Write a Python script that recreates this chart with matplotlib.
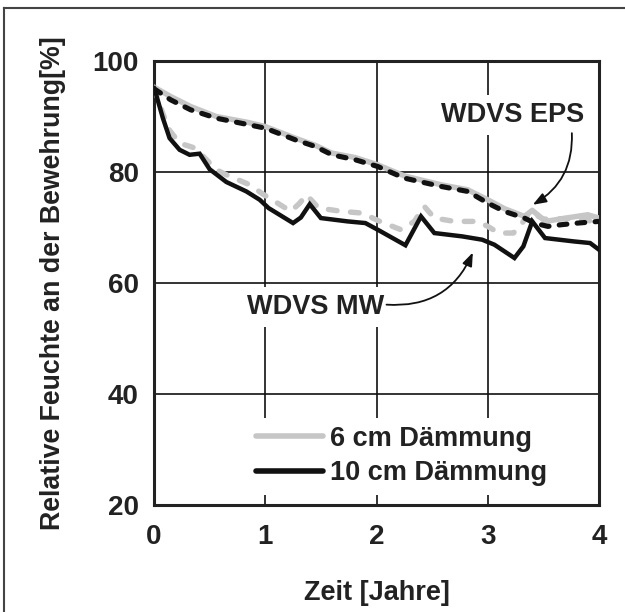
import matplotlib
matplotlib.use("Agg")
import matplotlib.pyplot as plt
from matplotlib.lines import Line2D

# ---------------- data ----------------
eps10_x = [0.0, 0.15, 0.33, 0.56, 0.83, 1.0, 1.27, 1.45, 1.6, 1.81, 2.01, 2.25, 2.58, 2.82, 3.0, 3.15, 3.33, 3.42, 3.54, 3.66, 3.81, 4.0]
eps10_y = [95.0, 93.0, 91.2, 89.7, 88.6, 87.9, 85.8, 84.6, 83.1, 82.2, 81.0, 78.9, 77.4, 76.5, 74.4, 72.9, 71.7, 70.8, 70.2, 70.5, 70.8, 71.1]

eps6_x = [0.0, 0.15, 0.33, 0.56, 0.83, 1.0, 1.27, 1.45, 1.6, 1.81, 2.01, 2.25, 2.58, 2.82, 3.0, 3.15, 3.33, 3.4, 3.52, 3.7, 3.9, 4.0]
eps6_y = [95.3, 93.6, 91.8, 90.0, 89.0, 88.2, 86.1, 84.8, 83.4, 82.6, 81.3, 79.3, 77.7, 76.8, 75.0, 73.4, 72.0, 73.1, 71.1, 71.7, 72.3, 71.7]

mw10_x = [0.0, 0.02, 0.08, 0.14, 0.23, 0.32, 0.41, 0.5, 0.65, 0.83, 0.95, 1.03, 1.25, 1.32, 1.4, 1.5, 1.74, 1.9, 2.02, 2.26, 2.4, 2.52, 2.77, 2.95, 3.06, 3.24, 3.32, 3.4, 3.515, 3.77, 3.92, 4.0]
mw10_y = [95.1, 93.9, 89.7, 86.1, 84.0, 83.1, 83.3, 80.5, 78.2, 76.5, 75.0, 73.5, 70.8, 71.8, 74.2, 71.7, 71.1, 70.8, 69.5, 66.8, 72.0, 69.0, 68.4, 67.8, 66.9, 64.5, 66.6, 71.1, 68.1, 67.5, 67.2, 66.0]

mw6_x = [0.0, 0.08, 0.14, 0.23, 0.37, 0.56, 0.65, 0.86, 0.98, 1.11, 1.23, 1.31, 1.37, 1.48, 1.69, 1.87, 2.03, 2.22, 2.34, 2.43, 2.52, 2.7, 2.91, 3.0, 3.1, 3.23, 3.29, 3.38, 3.5, 3.7, 3.9, 4.0]
mw6_y = [95.1, 90.5, 87.5, 85.2, 84.3, 80.4, 79.5, 77.7, 76.0, 74.4, 72.9, 74.4, 75.9, 73.5, 72.9, 72.6, 71.1, 69.6, 71.1, 73.8, 71.7, 71.1, 71.1, 70.2, 69.0, 69.0, 70.2, 72.9, 71.5, 71.6, 71.5, 69.6]

x_ticks = [0, 1, 2, 3, 4]
y_ticks = [20, 40, 60, 80, 100]
legend_labels = ["6 cm Dämmung", "10 cm Dämmung"]
x_label = "Zeit [Jahre]"
y_label = "Relative Feuchte an der Bewehrung[%]"

# ---------------- style ----------------
plt.rcParams['font.family'] = ['Liberation Sans', 'DejaVu Sans']
plt.rcParams['font.weight'] = 'bold'
TXT = '#222222'
GRAY = '#c6c6c6'
FS_TICK = 20
FS_TXT = 19.5
FS_YL = 19.3

W, H = 625, 612
fig = plt.figure(figsize=(W / 100, H / 100), dpi=100)
ax = fig.add_axes([154 / W, 1 - 505 / H, (599 - 154) / W, (505 - 61) / H])

ax.set_xlim(0, 4)
ax.set_ylim(20, 100)
ax.set_xticks(x_ticks)
ax.set_yticks(y_ticks)
ax.set_xticklabels([str(v) for v in x_ticks], fontsize=FS_TICK, fontweight='bold', color=TXT)
ax.set_yticklabels([str(v) for v in y_ticks], fontsize=FS_TICK, fontweight='bold', color=TXT)
ax.tick_params(axis='x', length=0, pad=14)
ax.tick_params(axis='y', length=0, pad=11)
ax.grid(True, color='#111111', linewidth=1.2, zorder=0)
ax.set_axisbelow(True)
for s in ax.spines.values():
    s.set_linewidth(2.2)
    s.set_color('#222222')

ax.set_xlabel(x_label, fontsize=FS_TXT, fontweight='bold', color=TXT, labelpad=21)
ax.set_ylabel(y_label, fontsize=FS_YL, fontweight='bold', color=TXT, labelpad=19)

# curves
ax.plot(eps6_x, eps6_y, color=GRAY, lw=3.9, solid_capstyle='round', zorder=3)
ax.plot(mw6_x, mw6_y, color=GRAY, lw=3.9, dashes=(1.6, 2.5), dash_capstyle='round', zorder=3)
ax.plot(mw10_x, mw10_y, color='#111111', lw=3.2, solid_joinstyle='miter', zorder=4)
ax.plot(eps10_x, eps10_y, color='#111111', lw=3.7, dashes=(1.5, 2.0), dash_capstyle='round', zorder=4)

# annotations
bb = dict(facecolor='white', edgecolor='none', pad=5)
ax.text(3.226, 90.3, "WDVS EPS", fontsize=FS_TXT, fontweight='bold', color=TXT,
        ha='center', va='center', bbox=bb, zorder=2)
ax.annotate('', xy=(3.405, 74.1), xytext=(3.756, 87.0),
            arrowprops=dict(arrowstyle='-|>,head_length=0.8,head_width=0.3', color='#111111', lw=1.3,
                            connectionstyle='arc3,rad=-0.3', shrinkA=0, shrinkB=0), zorder=5)
ax.text(1.451, 55.7, "WDVS MW", fontsize=FS_TXT, fontweight='bold', color=TXT,
        ha='center', va='center', bbox=bb, zorder=2)
ax.annotate('', xy=(2.866, 65.5), xytext=(2.09, 56.1),
            arrowprops=dict(arrowstyle='-|>,head_length=0.8,head_width=0.3', color='#111111', lw=1.3,
                            connectionstyle='arc3,rad=0.35', shrinkA=0, shrinkB=0), zorder=5)

# legend
handles = [Line2D([], [], color=GRAY, lw=4.0, solid_capstyle='round'),
           Line2D([], [], color='#111111', lw=4.0, solid_capstyle='round')]
leg = ax.legend(handles, legend_labels, loc='center left', bbox_to_anchor=(0.18, 0.11),
                frameon=True, fancybox=False, facecolor='white', edgecolor='none', framealpha=1,
                handlelength=2.5, handletextpad=0.25, labelspacing=0.32, borderpad=0.3,
                prop=dict(size=FS_TXT, weight='bold'))
for t in leg.get_texts():
    t.set_color(TXT)
leg.set_zorder(2)

# outer frame (top and left visible)
fig.add_artist(Line2D([4 / W, 4 / W], [0, 1 - 8 / H], transform=fig.transFigure, color='#444444', lw=1.5))
fig.add_artist(Line2D([4 / W, 1], [1 - 8 / H, 1 - 8 / H], transform=fig.transFigure, color='#444444', lw=1.5))

fig.savefig('out.png', dpi=100)
